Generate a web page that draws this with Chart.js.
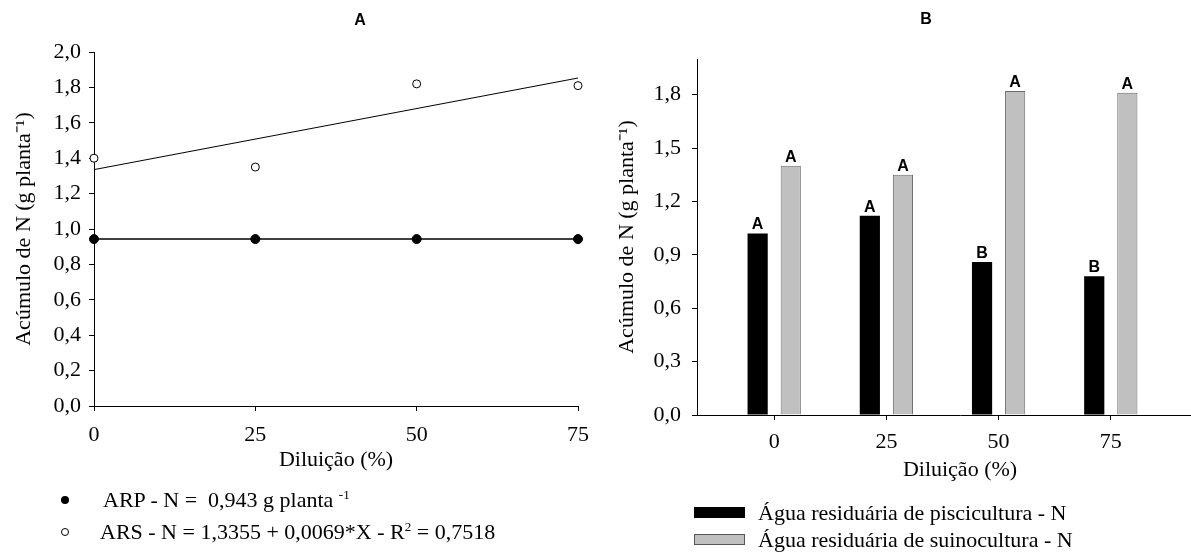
<!DOCTYPE html>
<html>
<head>
<meta charset="utf-8">
<script src="https://cdn.jsdelivr.net/npm/chart.js@4.4.0/dist/chart.umd.min.js"></script>
<style>
  body { margin: 0; width: 1191px; height: 552px; overflow: hidden; background: #fff; position: relative;
         font-family: "Liberation Serif", "Times New Roman", serif; color: #000; }
  canvas { position: absolute; top: 0; }
  .ttl { position: absolute; font: bold 16px "Liberation Sans", Arial, sans-serif; line-height: 20px; transform: translateX(-50%); }
  .leg { position: absolute; font-size: 22px; line-height: 26px; white-space: pre; }
  .leg sup { font-size: 13px; vertical-align: 8px; line-height: 0; }
  .dot { position: absolute; width: 8px; height: 8px; border-radius: 50%; box-sizing: border-box; }
  .sw { position: absolute; width: 51px; height: 11px; box-sizing: border-box; }
</style>
</head>
<body>
<canvas id="chartA" width="600" height="552" style="left:0"></canvas>
<canvas id="chartB" width="623" height="552" style="left:600px"></canvas>

<div class="ttl" style="left:360px; top:10px">A</div>
<div class="ttl" style="left:926px; top:9px">B</div>

<div class="dot" style="left:61px; top:496px; background:#000"></div>
<div class="leg" style="left:103px; top:487px">ARP - N =  0,943 g planta <sup>-1</sup></div>
<div class="dot" style="left:61px; top:528px; border:1px solid #000; background:#fff"></div>
<div class="leg" style="left:100px; top:519px">ARS - N = 1,3355 + 0,0069*X - R<sup>2</sup> = 0,7518</div>

<div class="sw" style="left:694px; top:507px; background:#000"></div>
<div class="leg" style="left:758px; top:500px">Água residuária de piscicultura - N</div>
<div class="sw" style="left:694px; top:534px; background:#c0c0c0; border:1px solid #555"></div>
<div class="leg" style="left:758px; top:527px">Água residuária de suinocultura - N</div>

<script>
// data
const dilution = [0, 25, 50, 75];
const xTicks = [0, 25, 50, 75];

// panel A
const arpN = [0.943, 0.943, 0.943, 0.943];
const arsN = [1.40, 1.35, 1.82, 1.81];
const fitX = [0, 75];
const arpFit = [0.943, 0.943];
const arsFit = [1.3355, 1.853];
const yTicksA = [0, 0.2, 0.4, 0.6, 0.8, 1.0, 1.2, 1.4, 1.6, 1.8, 2.0];

// panel B
const piscicultura = [1.02, 1.12, 0.86, 0.78];
const suinocultura = [1.40, 1.35, 1.82, 1.81];
const lettersPisc = ['A', 'A', 'B', 'B'];
const lettersSuin = ['A', 'A', 'A', 'A'];
const yTicksB = [0, 0.3, 0.6, 0.9, 1.2, 1.5, 1.8];

const serif = '"Liberation Serif", "Times New Roman", serif';
const yTitle = 'Acúmulo de N (g planta⁻¹)';

function pts(xs, ys) {
    return xs.map((x, i) => ({ x: x, y: ys[i] }));
}
function fmt(v) {
    return v.toFixed(1).replace('.', ',');
}

const barLetters = {
    id: 'barLetters',
    afterDatasetsDraw(chart) {
        const ctx = chart.ctx;
        ctx.save();
        ctx.font = 'bold 16px "Liberation Sans", Arial, sans-serif';
        ctx.fillStyle = '#000';
        ctx.textAlign = 'center';
        ctx.textBaseline = 'alphabetic';
        chart.data.datasets.forEach((ds, i) => {
            chart.getDatasetMeta(i).data.forEach((bar, j) => {
                ctx.fillText(ds.letters[j], bar.x, bar.y - 4);
            });
        });
        ctx.restore();
    }
};

new Chart(document.getElementById('chartA'), {
    type: 'scatter',
    data: {
        datasets: [
            { data: pts(dilution, arsN), pointRadius: 4, backgroundColor: '#fff', borderColor: '#000', borderWidth: 1, clip: false },
            { data: pts(dilution, arpN), pointRadius: 4.5, backgroundColor: '#000', borderColor: '#000', clip: false },
            { type: 'line', data: pts(fitX, arpFit), borderColor: '#000', borderWidth: 1.5, pointRadius: 0, clip: false },
            { type: 'line', data: pts(fitX, arsFit), borderColor: '#000', borderWidth: 1, pointRadius: 0, clip: false }
        ]
    },
    options: {
        responsive: false,
        animation: false,
        layout: { padding: { top: 52, right: 14, bottom: 0, left: 0 } },
        plugins: { legend: { display: false }, tooltip: { enabled: false } },
        scales: {
            x: {
                type: 'linear', min: 0, max: 75,
                afterBuildTicks: s => { s.ticks = xTicks.map(v => ({ value: v })); },
                afterFit: s => { s.height = 146; },
                grid: { drawOnChartArea: false, color: '#000', tickLength: 5 },
                border: { color: '#000' },
                ticks: { padding: 11, color: '#000', font: { family: serif, size: 22 } },
                title: { display: true, text: 'Diluição (%)', color: '#000', font: { family: serif, size: 22 }, padding: { top: 0, bottom: 79 } }
            },
            y: {
                min: 0, max: 2.0,
                afterBuildTicks: s => { s.ticks = yTicksA.map(v => ({ value: v })); },
                afterFit: s => { s.width = 94; },
                grid: { drawOnChartArea: false, color: '#000', tickLength: 5 },
                border: { color: '#000' },
                ticks: { padding: 8, color: '#000', font: { family: serif, size: 22 }, callback: v => fmt(v) },
                title: { display: true, text: yTitle, color: '#000', font: { family: serif, size: 22 }, padding: { top: 11, bottom: 0 } }
            }
        }
    }
});

new Chart(document.getElementById('chartB'), {
    type: 'bar',
    data: {
        datasets: [
            { label: 'Água residuária de piscicultura - N', data: pts(dilution, piscicultura), letters: lettersPisc,
              backgroundColor: '#000', borderWidth: 0, categoryPercentage: 0.59, barPercentage: 0.61 },
            { label: 'Água residuária de suinocultura - N', data: pts(dilution, suinocultura), letters: lettersSuin,
              backgroundColor: '#c0c0c0', borderColor: '#6a6a6a', borderWidth: 1, categoryPercentage: 0.59, barPercentage: 0.61 }
        ]
    },
    options: {
        responsive: false,
        animation: false,
        layout: { padding: { top: 59, right: 0, bottom: 0, left: 0 } },
        plugins: { legend: { display: false }, tooltip: { enabled: false } },
        scales: {
            x: {
                type: 'linear', min: -17.2, max: 100, offset: false,
                afterBuildTicks: s => { s.ticks = xTicks.map(v => ({ value: v })); },
                afterFit: s => { s.height = 137; },
                grid: { offset: false, drawOnChartArea: false, color: '#000', tickLength: 5 },
                border: { color: '#000' },
                ticks: { padding: 9, color: '#000', font: { family: serif, size: 22 } },
                title: { display: true, text: 'Diluição (%)', color: '#000', font: { family: serif, size: 22 }, padding: { top: 0, bottom: 69 } }
            },
            y: {
                min: 0, max: 2.0,
                afterBuildTicks: s => { s.ticks = yTicksB.map(v => ({ value: v })); },
                afterFit: s => { s.width = 97; },
                grid: { drawOnChartArea: false, color: '#000', tickLength: 5 },
                border: { color: '#000' },
                ticks: { padding: 11, color: '#000', font: { family: serif, size: 22 }, callback: v => fmt(v) },
                title: { display: true, text: yTitle, color: '#000', font: { family: serif, size: 22 }, padding: { top: 14, bottom: 0 } }
            }
        }
    },
    plugins: [barLetters]
});
</script>
</body>
</html>
